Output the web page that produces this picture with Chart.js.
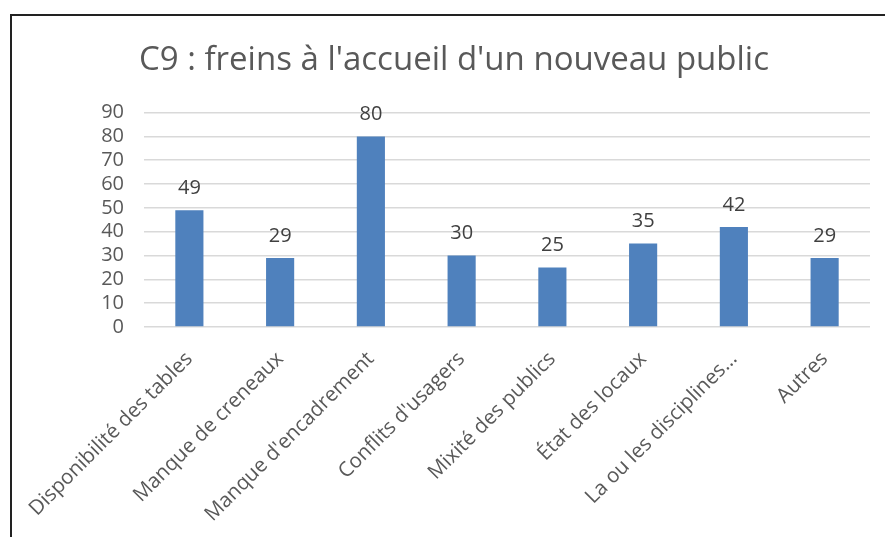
<!DOCTYPE html>
<html lang="fr">
<head>
<meta charset="utf-8">
<title>C9 : freins à l'accueil d'un nouveau public</title>
<script src="https://cdn.jsdelivr.net/npm/chart.js@4"></script>
<style>
  html, body { margin: 0; padding: 0; background: #fff; }
  .frame {
    position: absolute;
    left: 10px;
    top: 14px;
    width: 873px;
    height: 521px;
    border-top: 2px solid #222;
    border-left: 2px solid #222;
  }
</style>
</head>
<body>
<div class="frame"><canvas id="freinsChart"></canvas></div>
<script>
const categories = [
  'Disponibilité des tables',
  'Manque de creneaux',
  "Manque d'encadrement",
  "Conflits d'usagers",
  'Mixité des publics',
  'État des locaux',
  'La ou les disciplines…',
  'Autres'
];
const responses = [49, 29, 80, 30, 25, 35, 42, 29];
const yTicks = [0, 10, 20, 30, 40, 50, 60, 70, 80, 90];

const FONT = "'Open Sans', 'Liberation Sans', sans-serif";

// values written above each bar
const barValues = {
  id: 'barValues',
  afterDatasetsDraw(chart) {
    const ctx = chart.ctx;
    ctx.save();
    ctx.font = '20px ' + FONT;
    ctx.fillStyle = '#404040';
    ctx.textAlign = 'center';
    ctx.textBaseline = 'bottom';
    chart.getDatasetMeta(0).data.forEach((bar, i) => {
      ctx.fillText(responses[i], bar.x, bar.y - 12);
    });
    ctx.restore();
  }
};

document.addEventListener('DOMContentLoaded', () => {
  const canvas = document.getElementById('freinsChart');
  new Chart(canvas, {
    type: 'bar',
    data: {
      labels: categories,
      datasets: [{
        data: responses,
        backgroundColor: '#4F81BD',
        barPercentage: 0.31,
        categoryPercentage: 1,
      }],
    },
    options: {
      responsive: true,
      maintainAspectRatio: false,
      animation: false,
      layout: { padding: { left: 26, right: 15, top: 0, bottom: 0 } },
      plugins: {
        legend: { display: false },
        tooltip: { enabled: false },
        title: {
          display: true,
          text: "C9 : freins à l'accueil d'un nouveau public",
          color: '#595959',
          font: { family: FONT, size: 33, weight: 'normal' },
          lineHeight: 1.2,
          padding: { top: 25, bottom: 32 },
        },
      },
      scales: {
        x: {
          grid: { display: false },
          border: { display: false },
          ticks: {
            color: '#595959',
            font: { family: FONT, size: 20.5 },
            minRotation: 45,
            maxRotation: 45,
            autoSkip: false,
            padding: 12,
          },
          afterFit(scale) { scale.height = 210; },
        },
        y: {
          min: 0,
          max: 90,
          afterBuildTicks(scale) { scale.ticks = yTicks.map(v => ({ value: v })); },
          grid: { color: '#D9D9D9', lineWidth: 1.5, drawTicks: false },
          border: { display: false },
          ticks: {
            color: '#595959',
            font: { family: FONT, size: 20 },
            padding: 20,
            autoSkip: false,
          },
          afterFit(scale) { scale.width = 106; },
        },
      },
    },
    plugins: [barValues],
  });
});
</script>
</body>
</html>
